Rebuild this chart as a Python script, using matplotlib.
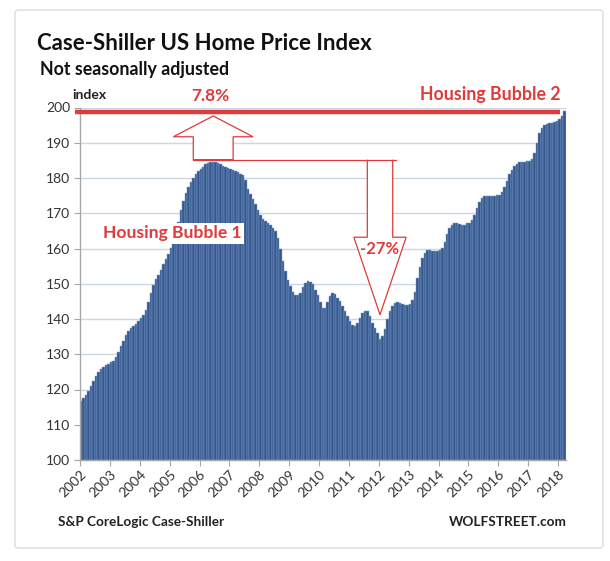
import numpy as np
import matplotlib
matplotlib.use("Agg")
import matplotlib.pyplot as plt
from matplotlib.patches import Polygon, FancyBboxPatch

plt.rcParams['font.family'] = ['Lato', 'DejaVu Sans']

# monthly index values, Jan 2002 .. Mar 2018
idx_2002 = [116.6, 117.5, 118.5, 119.7, 121.0, 122.4, 123.8, 125.0, 125.8, 126.4, 126.9, 127.3]
idx_2003 = [127.7, 128.2, 129.2, 130.6, 132.3, 133.9, 135.4, 136.6, 137.4, 138.0, 138.6, 139.3]
idx_2004 = [140.2, 141.1, 142.6, 144.8, 147.4, 149.6, 151.3, 152.5, 154.0, 155.5, 157.0, 158.5]
idx_2005 = [160.2, 161.8, 164.3, 167.5, 170.8, 173.5, 175.8, 177.5, 178.8, 180.0, 181.0, 182.0]
idx_2006 = [182.5, 183.2, 183.9, 184.3, 184.5, 184.6, 184.5, 184.3, 184.0, 183.5, 183.1, 182.8]
idx_2007 = [182.5, 182.2, 182.0, 181.7, 181.2, 180.8, 179.5, 177.0, 175.5, 174.0, 172.5, 170.8]
idx_2008 = [169.6, 168.5, 167.8, 167.2, 166.6, 165.8, 165.0, 163.0, 160.0, 156.5, 153.5, 151.0]
idx_2009 = [149.5, 147.8, 146.9, 146.7, 147.5, 149.0, 150.3, 150.8, 150.6, 149.8, 148.3, 146.8]
idx_2010 = [144.8, 143.2, 143.0, 144.8, 146.5, 147.4, 147.0, 146.0, 145.0, 143.8, 142.4, 140.9]
idx_2011 = [139.5, 138.3, 138.0, 138.8, 140.2, 141.7, 142.4, 142.3, 140.8, 139.0, 137.5, 136.0]
idx_2012 = [134.3, 135.3, 137.3, 140.0, 142.3, 143.8, 144.4, 144.7, 144.6, 144.2, 143.9, 143.9]
idx_2013 = [144.3, 145.3, 147.8, 151.5, 154.8, 157.3, 158.8, 159.5, 159.5, 159.3, 159.3, 159.4]
idx_2014 = [159.5, 160.2, 161.8, 164.0, 165.8, 166.8, 167.3, 167.2, 167.0, 166.8, 166.7, 167.1]
idx_2015 = [167.3, 168.0, 169.5, 171.4, 173.1, 174.3, 174.9, 175.0, 175.0, 175.0, 175.0, 175.1]
idx_2016 = [175.1, 176.0, 177.5, 179.2, 181.0, 182.3, 183.3, 184.0, 184.4, 184.5, 184.6, 184.7]
idx_2017 = [184.9, 185.3, 187.0, 190.0, 192.8, 194.3, 195.0, 195.3, 195.5, 195.7, 195.9, 196.2]
idx_2018 = [196.6, 197.6, 199.0]

years = list(range(2002, 2019))
year_labels = [str(y) for y in years]

values = np.array(idx_2002 + idx_2003 + idx_2004 + idx_2005 + idx_2006 + idx_2007
                  + idx_2008 + idx_2009 + idx_2010 + idx_2011 + idx_2012 + idx_2013
                  + idx_2014 + idx_2015 + idx_2016 + idx_2017 + idx_2018)
months = np.arange(len(values))

RED = '#e03a3a'
W, H = 610, 561

fig = plt.figure(figsize=(W / 100, H / 100), dpi=100)
fig.patch.set_facecolor('white')

# card border
card = FancyBboxPatch((15 / W, 1 - 548 / H), 588 / W, 538 / H,
                      boxstyle="round,pad=0,rounding_size=0.006",
                      transform=fig.transFigure, facecolor='none',
                      edgecolor='#dcdcdc', linewidth=1.0, zorder=-1)
fig.patches.append(card)

ax = fig.add_axes([80 / W, 1 - 460 / H, (565.5 - 80) / W, (460 - 107.5) / H])
ax.set_facecolor('white')

ax.bar(months, values - 100, bottom=100, width=1.0, align='edge',
       color='#35578b', edgecolor='#7d9dcc', linewidth=0.35, zorder=2)

ax.set_xlim(0, len(values))
ax.set_ylim(100, 200)
ax.set_yticks(np.arange(100, 201, 10))
ax.set_xticks([12 * i for i in range(len(years))])
ax.set_xticklabels(year_labels, rotation=45, ha='right', rotation_mode='anchor')
ax.tick_params(axis='x', length=4, color='#a6a6a6', labelsize=10,
               labelcolor='#333333', pad=2)
ax.tick_params(axis='y', length=4, color='#a6a6a6', labelsize=10,
               labelcolor='#333333', pad=3)
ax.grid(axis='y', color='#cbd7e8', linewidth=1.0, zorder=0)
ax.set_axisbelow(True)
for s in ['top', 'right']:
    ax.spines[s].set_visible(False)
for s in ['left', 'bottom']:
    ax.spines[s].set_color('#a6a6a6')
    ax.spines[s].set_linewidth(1.0)

# annotations
peak_i = int(np.argmax(values[:120]))
peak = values[peak_i]
trough_i = int(np.argmin(values[100:])) + 100
now = values[-1]
level = now - 0.2

ax.plot([-2.2, len(values) - 2.2], [level, level], color=RED, lw=3.2,
        solid_capstyle='butt', clip_on=False, zorder=5)

# up arrow from old peak to new high
cx = peak_i + 0.5
top_base = peak + 0.6
up = Polygon([[cx - 8, top_base], [cx - 8, 191.7], [cx - 16, 191.7], [cx, 197.6],
              [cx + 16, 191.7], [cx + 8, 191.7], [cx + 8, top_base]],
             closed=True, facecolor='white', edgecolor=RED, lw=0.9, zorder=4)
ax.add_patch(up)

# down arrow from old peak to trough
dx = trough_i + 0.5
down = Polygon([[dx - 5.1, top_base], [dx - 5.1, 163.2], [dx - 10.5, 163.2], [dx, 141.2],
                [dx + 10.5, 163.2], [dx + 5.1, 163.2], [dx + 5.1, top_base]],
               closed=False, facecolor='white', edgecolor=RED, lw=0.9, zorder=4)
ax.add_patch(down)
ax.plot([cx - 8, dx + 6.5], [top_base, top_base], color=RED, lw=0.9, zorder=4)

ax.text(dx, 159.8, "-27%", color=RED, fontsize=12, fontweight='bold',
        ha='center', va='center', zorder=6)
ax.text(cx - 1, 203.3, "7.8%", color=RED, fontsize=12.5,
        fontweight='bold', ha='center', va='center', clip_on=False)
ax.text(len(values) - 2, 203.6, "Housing Bubble 2", color=RED, fontsize=12.8,
        fontweight='bold', ha='right', va='center', clip_on=False)
ax.text(37, 164.3, "Housing Bubble 1", color=RED, fontsize=12.6, fontweight='bold',
        ha='center', va='center', zorder=6,
        bbox=dict(facecolor='white', edgecolor='none', pad=2))
ax.text(-3.2, 203.6, "index", color='#222222', fontsize=10, fontweight='bold',
        ha='left', va='center', clip_on=False)

# titles and footer
fig.text(37 / W, 1 - 44 / H, "Case-Shiller US Home Price Index", fontsize=16,
         fontweight='bold', color='#111111', ha='left', va='center')
fig.text(40 / W, 1 - 70 / H, "Not seasonally adjusted", fontsize=12.8,
         fontweight='bold', color='#111111', ha='left', va='center')
fig.text(58 / W, 1 - 522 / H, "S&P CoreLogic Case-Shiller", fontsize=9.8,
         fontweight='bold', color='#222222', ha='left', va='center')
fig.text(567 / W, 1 - 522 / H, "WOLFSTREET.com", fontsize=9.8,
         fontweight='bold', color='#222222', ha='right', va='center')

fig.savefig("out.png", dpi=100)
